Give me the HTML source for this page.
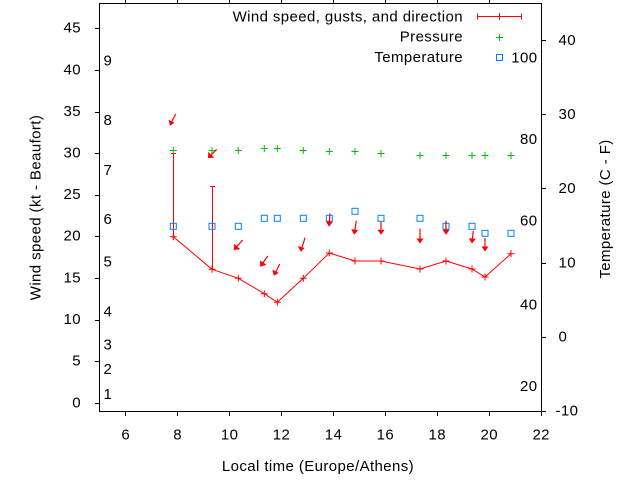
<!DOCTYPE html>
<html><head><meta charset="utf-8"><style>
html,body{margin:0;padding:0;background:#fff;}
svg{display:block;}
text{font-family:"Liberation Sans",sans-serif;font-size:15px;fill:#000;letter-spacing:0.4px;}
</style></head><body>
<svg width="640" height="480" viewBox="0 0 640 480" xmlns="http://www.w3.org/2000/svg">
<rect width="640" height="480" fill="#fff"/>
<g stroke="#000" stroke-width="1" shape-rendering="crispEdges" fill="none">
<rect x="99.5" y="3.5" width="442" height="408"/>
<!-- left ticks -->
<path d="M95 403.5H99M95 361.5H99M95 320.5H99M95 278.5H99M95 236.5H99M95 195.5H99M95 153.5H99M95 112.5H99M95 70.5H99M95 28.5H99"/>
<!-- right ticks -->
<path d="M542 411.5H546M542 337.5H546M542 263.5H546M542 188.5H546M542 114.5H546M542 40.5H546"/>
<!-- bottom ticks -->
<path d="M125.5 412V416M177.5 412V416M229.5 412V416M281.5 412V416M333.5 412V416M385.5 412V416M437.5 412V416M489.5 412V416M541.5 412V416"/>
<!-- top ticks -->
<path d="M125.5 0V3M177.5 0V3M229.5 0V3M281.5 0V3M333.5 0V3M385.5 0V3M437.5 0V3M489.5 0V3"/>
</g>
<!-- left tick labels -->
<g text-anchor="end">
<text x="81" y="407.5">0</text>
<text x="81" y="365.6">5</text>
<text x="81" y="324">10</text>
<text x="81" y="282.4">15</text>
<text x="81" y="240.7">20</text>
<text x="81" y="199.1">25</text>
<text x="81" y="157.5">30</text>
<text x="81" y="115.9">35</text>
<text x="81" y="74.3">40</text>
<text x="81" y="32.5">45</text>
</g>
<!-- right tick labels -->
<text x="555.5" y="415.7">-10</text>
<text x="558.5" y="341.5">0</text>
<text x="558.5" y="267.3">10</text>
<text x="558.5" y="193.1">20</text>
<text x="558.5" y="118.9">30</text>
<text x="558.5" y="44.8">40</text>
<!-- x tick labels -->
<g text-anchor="middle">
<text x="125.7" y="439.3">6</text>
<text x="177.6" y="439.3">8</text>
<text x="229.6" y="439.3">10</text>
<text x="281.5" y="439.3">12</text>
<text x="333.5" y="439.3">14</text>
<text x="385.4" y="439.3">16</text>
<text x="437.3" y="439.3">18</text>
<text x="489.3" y="439.3">20</text>
<text x="541.2" y="439.3">22</text>
<text x="318" y="471">Local time (Europe/Athens)</text>
<text transform="translate(40.7,207.5) rotate(-90)">Wind speed (kt - Beaufort)</text>
<text transform="translate(610,209) rotate(-90)">Temperature (C - F)</text>
</g>
<!-- Beaufort labels -->
<text x="103.5" y="399">1</text>
<text x="103.5" y="374">2</text>
<text x="103.5" y="349.3">3</text>
<text x="103.5" y="316.7">4</text>
<text x="103.5" y="266.7">5</text>
<text x="103.5" y="224">6</text>
<text x="103.5" y="175">7</text>
<text x="103.5" y="125">8</text>
<text x="103.5" y="65.7">9</text>
<!-- Fahrenheit labels -->
<g text-anchor="end">
<text x="537.5" y="62.3">100</text>
<text x="537.5" y="144">80</text>
<text x="537.5" y="225.7">60</text>
<text x="537.5" y="309.3">40</text>
<text x="537.5" y="391">20</text>
<!-- legend -->
<text x="463" y="21.3">Wind speed, gusts, and direction</text>
<text x="463" y="41.7">Pressure</text>
<text x="463" y="62">Temperature</text>
</g>
<g fill="none" stroke-width="1">
<!-- legend samples -->
<path d="M477.5 16.5H521.5M477.5 13.5V19.5M521.5 13.5V19.5M499.5 13V20" stroke="#ff0000"/>
<path d="M496 37.5H503M499.5 34V41" stroke="#00c000"/>
<rect x="496.5" y="54.5" width="6" height="6" stroke="#0080ff"/>

<!-- wind line -->
<polyline stroke="#ff0000" points="173.3,236.7 212,269.3 238.3,278.3 264.3,293.7 277.3,302.3 303.3,278.3 329.3,253 355,261 381,261 420,269 446,261 472,269 485,277 511,253.7"/>
<!-- gust bars -->
<path stroke="#ff0000" d="M173.5 153.5V236.7M171 153.5H176M212.5 186.5V269.3M210 186.5H215"/>
<!-- wind + markers -->
<g stroke="#ff0000">
<path d="M169.8 236.7h7M173.3 233.2v7"/>
<path d="M208.5 269.3h7M212 265.8v7"/>
<path d="M234.8 278.3h7M238.3 274.8v7"/>
<path d="M260.8 293.7h7M264.3 290.2v7"/>
<path d="M273.8 302.3h7M277.3 298.8v7"/>
<path d="M299.8 278.3h7M303.3 274.8v7"/>
<path d="M325.8 253h7M329.3 249.5v7"/>
<path d="M351.5 261h7M355 257.5v7"/>
<path d="M377.5 261h7M381 257.5v7"/>
<path d="M416.5 269h7M420 265.5v7"/>
<path d="M442.5 261h7M446 257.5v7"/>
<path d="M468.5 269h7M472 265.5v7"/>
<path d="M481.5 277h7M485 273.5v7"/>
<path d="M507.5 253.7h7M511 250.2v7"/>
</g>
<!-- pressure -->
<g stroke="#00c000">
<path d="M169.8 150.5h7M173.3 147v7"/>
<path d="M208.5 150.5h7M212 147v7"/>
<path d="M234.8 150.5h7M238.3 147v7"/>
<path d="M260.8 148.5h7M264.3 145v7"/>
<path d="M273.8 148.5h7M277.3 145v7"/>
<path d="M299.8 150.5h7M303.3 147v7"/>
<path d="M325.8 151.5h7M329.3 148v7"/>
<path d="M351.5 151.5h7M355 148v7"/>
<path d="M377.5 153.5h7M381 150v7"/>
<path d="M416.5 155.5h7M420 152v7"/>
<path d="M442.5 155.5h7M446 152v7"/>
<path d="M468.5 155.5h7M472 152v7"/>
<path d="M481.5 155.5h7M485 152v7"/>
<path d="M507.5 155.5h7M511 152v7"/>
</g>
<!-- temperature -->
<g stroke="#0080ff">
<rect x="170.3" y="223.3" width="6" height="6"/>
<rect x="209" y="223.3" width="6" height="6"/>
<rect x="235.3" y="223.3" width="6" height="6"/>
<rect x="261.3" y="215.3" width="6" height="6"/>
<rect x="274.3" y="215.3" width="6" height="6"/>
<rect x="300.3" y="215.3" width="6" height="6"/>
<rect x="326.3" y="215.3" width="6" height="6"/>
<rect x="352" y="208.3" width="6" height="6"/>
<rect x="378" y="215.3" width="6" height="6"/>
<rect x="417" y="215.3" width="6" height="6"/>
<rect x="443" y="223.3" width="6" height="6"/>
<rect x="469" y="223.3" width="6" height="6"/>
<rect x="482" y="230.3" width="6" height="6"/>
<rect x="508" y="230.3" width="6" height="6"/>
</g>
</g>
<!-- wind direction arrows -->
<g stroke="#ff0000" fill="#ff0000" stroke-width="1.2">
<line x1="175.7" y1="114" x2="170" y2="125"/>
<line x1="216.7" y1="149.3" x2="208.7" y2="157.3"/>
<line x1="242.7" y1="240" x2="234.3" y2="249.3"/>
<line x1="267.7" y1="256" x2="260.7" y2="266"/>
<line x1="279.7" y1="264" x2="274.3" y2="275"/>
<line x1="305" y1="237.7" x2="301" y2="251"/>
<line x1="330" y1="213.3" x2="329" y2="226"/>
<line x1="356.3" y1="220.7" x2="354.3" y2="234"/>
<line x1="381" y1="221.7" x2="381" y2="234"/>
<line x1="420" y1="228.7" x2="420" y2="242.7"/>
<line x1="446" y1="220.7" x2="446" y2="234"/>
<line x1="473.3" y1="230.7" x2="472" y2="242.7"/>
<line x1="485" y1="238" x2="485" y2="250.7"/>
</g>
<g fill="#ff0000" stroke="none">
<polygon points="170,125.7 168.5,119.8 174.4,122.8"/>
<polygon points="208,158 208.3,151.7 214.3,157.7"/>
<polygon points="233.7,250 234.3,243.8 240.3,249.2"/>
<polygon points="260.2,266.7 260.1,260.4 266.4,264.8"/>
<polygon points="274,275.7 272.3,269.6 278.8,272.8"/>
<polygon points="300.8,251.7 297.8,246 304.6,248"/>
<polygon points="329,226.7 325.8,221.2 332.8,221.8"/>
<polygon points="354.2,234.7 351.2,229.1 358.2,230.1"/>
<polygon points="381,234.8 377.5,229.8 384.5,229.8"/>
<polygon points="420,243.5 416.5,238.5 423.5,238.5"/>
<polygon points="446,234.8 442.5,229.8 449.5,229.8"/>
<polygon points="471.9,243.5 468.9,238.2 475.8,238.9"/>
<polygon points="485,251.5 481.5,246.5 488.5,246.5"/>
</g>
</svg>
</body></html>
